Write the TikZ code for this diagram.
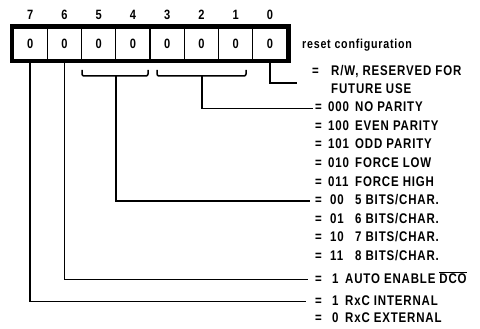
\documentclass[tikz,border=0pt]{standalone}
\usepackage{fontspec}
\setmainfont{Liberation Sans}[FakeStretch=0.82,LetterSpace=6]
\newcommand\ovlbar[1]{\mbox{$\overline{\hbox{#1}}$}}
\begin{document}
\begin{tikzpicture}[x=1pt,y=-1pt,
  txt/.style={anchor=base west, inner sep=0pt, font=\fontsize{14}{16}\selectfont\bfseries},
  cell/.style={draw, line width=1.2pt, minimum width=34.25pt, minimum height=32pt, inner sep=0pt, font=\fontsize{13.5}{15}\selectfont\bfseries},
  bitnum/.style={inner sep=0pt, font=\fontsize{13.5}{15}\selectfont\bfseries},
  wire/.style={line width=1.5pt}]
\useasboundingbox (0,0) rectangle (480,329);
% register
\node[draw, line width=3pt, minimum width=278pt, minimum height=36pt, inner sep=0pt] (frame) at (150,43.5) {};
\foreach \b/\i in {7/0,6/1,5/2,4/3,3/4,2/5,1/6,0/7} {
  \node[cell] (c\b) at ({30.125+34.25*\i},44) {0};
  \node[bitnum] (n\b) at ({30.125+34.25*\i},15) {\b};
}
\node[txt, font=\fontsize{13}{15}\selectfont\bfseries] (reset) at (302,49) {reset configuration};
% texts
\node[txt] (eRW) at (312,76) {=};
\node[txt] (tRW) at (331,76) {R/W, RESERVED FOR};
\node[txt] (tFU) at (331,94) {FUTURE USE};
\foreach \n/\v/\d/\y in {p0/000/NO PARITY/112, p1/100/EVEN PARITY/130.5, p2/101/ODD PARITY/149, p3/010/FORCE LOW/167.5, p4/011/FORCE HIGH/186} {
  \node[txt] (e\n) at (315,\y) {=};
  \node[txt] (v\n) at (328,\y) {\v};
  \node[txt] (d\n) at (355,\y) {\d};
}
\foreach \n/\v/\d/\y in {b0/00/5/204.5, b1/01/6/223, b2/10/7/241.5, b3/11/8/260} {
  \node[txt] (e\n) at (315,\y) {=};
  \node[txt] (v\n) at (330,\y) {\v};
  \node[txt] (d\n) at (355,\y) {\d\ BITS/CHAR.};
}
\node[txt] (eAU) at (315,283) {=};
\node[txt] (vAU) at (332,283) {1};
\node[txt] (dAU) at (345,283) {AUTO ENABLE \ovlbar{DCO}};
\node[txt] (eIN) at (315,305) {=};
\node[txt] (vIN) at (332,305) {1};
\node[txt] (dIN) at (345,305) {RxC INTERNAL};
\node[txt] (eEX) at (315,322) {=};
\node[txt] (vEX) at (332,322) {0};
\node[txt] (dEX) at (345,322) {RxC EXTERNAL};
% brackets
\draw[wire, rounded corners=2pt] (82,70) |- (148,76) -- (148,70);
\draw[wire, rounded corners=2pt] (157,70) |- (246,76) -- (246,70);
\coordinate (b54) at (116,76);
\coordinate (b31) at (202,76);
\coordinate (b0end) at (297,83);
% connectors
\draw[wire] (c0.south) |- (b0end);
\draw[wire] (b31) |- ([xshift=-2pt]ep0.west);
\draw[wire] (b54) |- ([xshift=-5pt]eb0.west);
\draw[wire] (c6.south) |- ([xshift=-7pt]eAU.west);
\draw[wire] (c7.south) |- ([xshift=-9pt]eIN.west);
\end{tikzpicture}
\end{document}
